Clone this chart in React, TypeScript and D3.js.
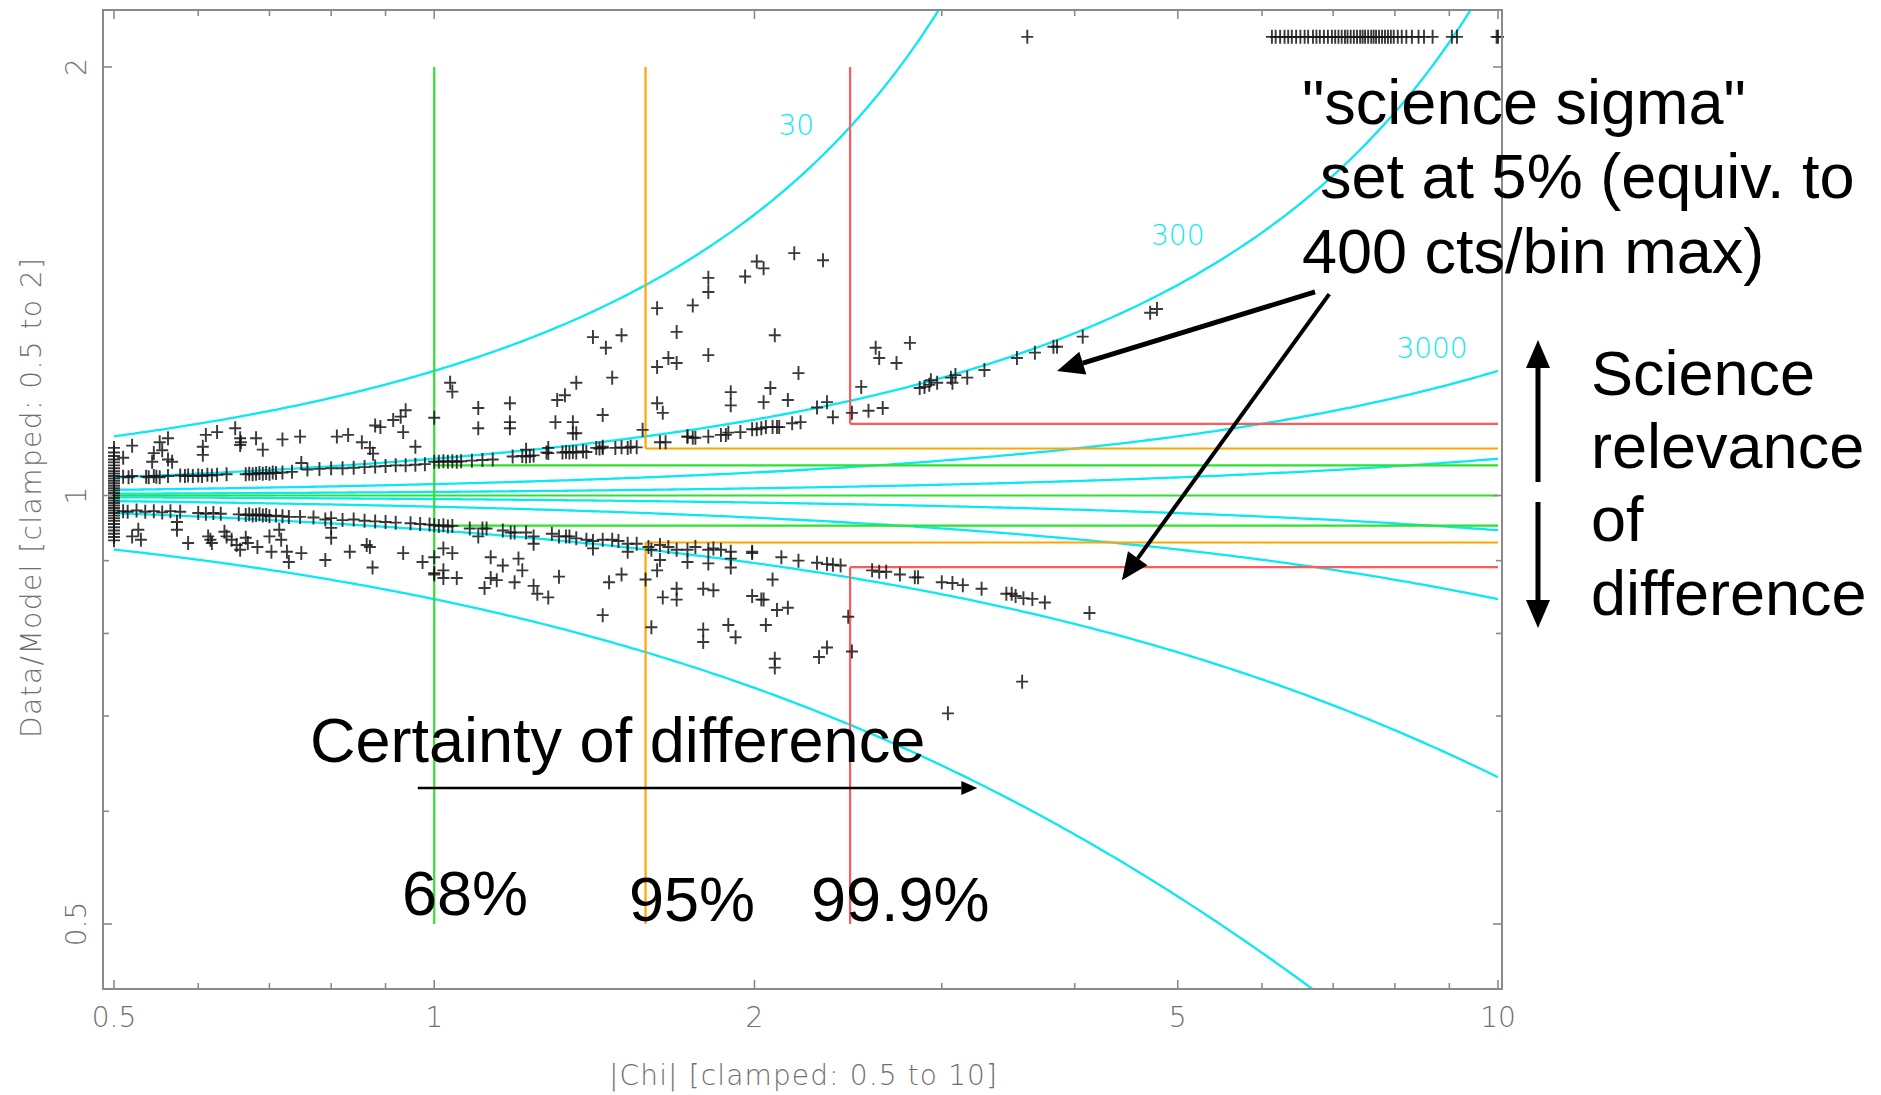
import React, { useEffect, useRef } from 'react';
import * as d3 from 'd3';

const W = 1881;
const H = 1095;

// axis ticks
const xMajor = [0.5, 1, 2, 5, 10];
const xMinor = [0.6, 0.7, 0.8, 0.9, 3, 4, 6, 7, 8, 9];
const yMajor = [0.5, 1, 2];
const yMinor = [0.6, 0.7, 0.8, 0.9];

// counts/bin of the cyan guide curves
const countLevels = [30, 300, 3000, 30000];
const countLabels = [
  { text: '30', chi: 2.19, ratio: 1.82 },
  { text: '300', chi: 5.0, ratio: 1.524 },
  { text: '3000', chi: 8.67, ratio: 1.27 },
];

// confidence boxes (|chi| thresholds)
const scienceSigma = 0.05;
const confLevels = [
  { chi: 1, label: '68%', color: '#2fe02f' },
  { chi: 1.58, label: '95%', color: '#ffa500' },
  { chi: 2.46, label: '99.9%', color: '#ff5a5a' },
];

// data: points clamped at |chi| = 0.5
const clampedCol = [1.08, 1.072, 1.066, 1.06, 1.055, 1.05, 1.045, 1.04, 1.036, 1.032, 1.028, 1.024, 1.02, 1.016,
  1.012, 1.008, 1.004, 1.0, 0.996, 0.992, 0.988, 0.984, 0.98, 0.976, 0.972, 0.968, 0.964, 0.96, 0.955, 0.95,
  0.945, 0.94, 0.935, 0.93];

// data: points clamped at ratio = 2 (drawn just above the top)
const clampedTopValue = 2.1;
const clampedTop = [3.61, 6.13, 6.18, 6.24, 6.3, 6.35, 6.4, 6.46, 6.52, 6.58, 6.63, 6.7, 6.75, 6.8, 6.86, 6.92,
  6.98, 7.03, 7.08, 7.13, 7.18, 7.22, 7.27, 7.32, 7.37, 7.42, 7.46, 7.5, 7.55, 7.6, 7.64, 7.68, 7.73, 7.78,
  7.83, 7.88, 7.93, 7.98, 8.05, 8.12, 8.2, 8.3, 8.42, 8.52, 8.68, 9.05, 9.15, 9.97, 10.0];

const upperBand = [
  [0.51, 1.031], [0.516, 1.03], [0.52, 1.032], [0.536, 1.031], [0.539, 1.03], [0.545, 1.032], [0.548, 1.031],
  [0.552, 1.03], [0.562, 1.032], [0.577, 1.033], [0.583, 1.032], [0.587, 1.033], [0.593, 1.032], [0.6, 1.033],
  [0.605, 1.032], [0.612, 1.034], [0.618, 1.033], [0.625, 1.034], [0.638, 1.035],
  [0.665, 1.035], [0.67, 1.036], [0.675, 1.035], [0.68, 1.036], [0.685, 1.037], [0.69, 1.036], [0.695, 1.037],
  [0.7, 1.036], [0.705, 1.038], [0.71, 1.037], [0.72, 1.038], [0.735, 1.039],
  [0.75, 1.054], [0.76, 1.043], [0.78, 1.044], [0.8, 1.045], [0.82, 1.045], [0.84, 1.046], [0.86, 1.047],
  [0.88, 1.048], [0.9, 1.049], [0.92, 1.05], [0.94, 1.05], [0.96, 1.051], [0.98, 1.052],
  [1.0, 1.056], [1.01, 1.056], [1.02, 1.057], [1.03, 1.056], [1.04, 1.057], [1.05, 1.056], [1.06, 1.057],
  [1.085, 1.058], [1.11, 1.059], [1.135, 1.06],
  [1.185, 1.065], [1.21, 1.066], [1.22, 1.065], [1.23, 1.066], [1.24, 1.067],
  [1.275, 1.072], [1.28, 1.071], [1.32, 1.072], [1.33, 1.073], [1.34, 1.072], [1.35, 1.073], [1.36, 1.072],
  [1.38, 1.074], [1.39, 1.073],
  [1.42, 1.08], [1.43, 1.079], [1.44, 1.08], [1.44, 1.082], [1.48, 1.08], [1.5, 1.081], [1.52, 1.08],
  [1.53, 1.082], [1.55, 1.081],
  [1.73, 1.1], [1.75, 1.098], [1.76, 1.098], [1.81, 1.1], [1.86, 1.103], [1.88, 1.103], [1.89, 1.107],
  [1.94, 1.108], [1.99, 1.113], [2.01, 1.113], [2.03, 1.115], [2.05, 1.117], [2.08, 1.117], [2.1, 1.117],
  [2.11, 1.117], [2.17, 1.124], [2.21, 1.126],
  [2.86, 1.19], [2.89, 1.192], [2.92, 1.196], [2.97, 1.2],
  [2.93, 1.205], [3.06, 1.21], [3.07, 1.2], [3.09, 1.215], [3.17, 1.21], [3.29, 1.225],
  [3.53, 1.249], [3.67, 1.26], [3.82, 1.272], [3.85, 1.272], [4.07, 1.293],
];

const upperScatter = [
  [0.52, 1.084], [0.51, 1.063], [0.545, 1.071], [0.552, 1.09], [0.555, 1.076], [0.562, 1.097], [0.562, 1.06],
  [0.543, 1.056], [0.567, 1.056], [0.61, 1.103], [0.606, 1.082], [0.606, 1.068], [0.625, 1.108],
  [0.65, 1.115], [0.657, 1.097], [0.657, 1.085], [0.658, 1.09], [0.68, 1.097], [0.69, 1.077], [0.72, 1.095],
  [0.748, 1.1], [0.81, 1.1], [0.83, 1.103], [0.855, 1.09], [0.87, 1.08], [0.876, 1.07],
  [0.88, 1.12], [0.89, 1.117], [0.915, 1.13], [0.93, 1.136], [0.935, 1.108], [0.94, 1.148], [0.96, 1.082],
  [1.0, 1.134], [1.035, 1.2], [1.04, 1.183], [1.1, 1.152], [1.1, 1.115], [1.178, 1.161], [1.178, 1.126],
  [1.178, 1.115], [1.3, 1.126], [1.305, 1.167], [1.327, 1.176], [1.35, 1.126], [1.36, 1.2], [1.36, 1.106],
  [1.41, 1.292], [1.44, 1.139], [1.45, 1.27], [1.47, 1.21], [1.5, 1.296], [1.57, 1.112],
  [1.62, 1.354], [1.62, 1.231], [1.62, 1.161], [1.64, 1.143], [1.66, 1.249], [1.69, 1.239], [1.69, 1.303],
  [1.63, 1.09], [1.65, 1.09], [1.73, 1.1], [1.22, 1.077], [1.28, 1.08], [1.35, 1.106],
  [1.75, 1.36], [1.81, 1.422], [1.81, 1.39], [1.81, 1.255], [1.96, 1.425], [2.01, 1.46], [2.04, 1.444],
  [2.09, 1.296], [2.18, 1.48], [2.32, 1.463], [2.2, 1.219],
  [1.9, 1.182], [1.9, 1.157], [2.04, 1.163], [2.07, 1.19], [2.15, 1.167],
  [2.29, 1.153], [2.34, 1.163], [2.37, 1.135], [2.52, 1.192], [2.56, 1.147], [2.64, 1.152], [2.47, 1.143],
  [2.6, 1.27], [2.62, 1.249], [2.72, 1.239], [2.8, 1.28], [4.71, 1.344], [4.78, 1.352],
];

const lowerBand = [
  [0.51, 0.975], [0.515, 0.974], [0.525, 0.976], [0.535, 0.974], [0.545, 0.975], [0.555, 0.973], [0.565, 0.975],
  [0.577, 0.974], [0.6, 0.972], [0.61, 0.971], [0.62, 0.972], [0.63, 0.971],
  [0.655, 0.97], [0.665, 0.969], [0.67, 0.97], [0.675, 0.968], [0.68, 0.969], [0.685, 0.97], [0.69, 0.968],
  [0.695, 0.969], [0.7, 0.967], [0.71, 0.968], [0.72, 0.967], [0.73, 0.966], [0.748, 0.966],
  [0.77, 0.965], [0.79, 0.962], [0.8, 0.964], [0.82, 0.961], [0.84, 0.962], [0.86, 0.96], [0.88, 0.959],
  [0.9, 0.958], [0.92, 0.957], [0.95, 0.956], [0.97, 0.955], [0.99, 0.954],
  [1.0, 0.953], [1.01, 0.952], [1.02, 0.953], [1.03, 0.951], [1.04, 0.952],
  [1.08, 0.948], [1.1, 0.936], [1.11, 0.948], [1.12, 0.948], [1.16, 0.945], [1.18, 0.942], [1.19, 0.942],
  [1.22, 0.942], [1.24, 0.936], [1.24, 0.925],
  [1.29, 0.94], [1.31, 0.936], [1.33, 0.936], [1.34, 0.936], [1.36, 0.933], [1.39, 0.931], [1.41, 0.929],
  [1.41, 0.918], [1.44, 0.931], [1.47, 0.931], [1.49, 0.929], [1.52, 0.925], [1.52, 0.913], [1.55, 0.925],
  [1.59, 0.92], [1.6, 0.916], [1.63, 0.923], [1.66, 0.92], [1.69, 0.916],
  [1.73, 0.916], [1.76, 0.92], [1.81, 0.916], [1.83, 0.918], [1.86, 0.916], [1.9, 0.913], [1.99, 0.911],
  [1.99, 0.913], [2.12, 0.905], [2.2, 0.9], [2.29, 0.897], [2.34, 0.895], [2.37, 0.894], [2.41, 0.893],
  [2.58, 0.886], [2.62, 0.884], [2.66, 0.884], [2.74, 0.88], [2.83, 0.876], [2.85, 0.876],
  [3.0, 0.869], [3.07, 0.868], [3.14, 0.865], [3.27, 0.86], [3.45, 0.853], [3.49, 0.853], [3.52, 0.85],
  [3.58, 0.847], [3.65, 0.846], [3.75, 0.841], [4.13, 0.827],
];

const lowerScatter = [
  [0.52, 0.936], [0.527, 0.946], [0.53, 0.931], [0.573, 0.958], [0.573, 0.946], [0.587, 0.926], [0.613, 0.936],
  [0.616, 0.931], [0.618, 0.926], [0.635, 0.943], [0.638, 0.936], [0.645, 0.931], [0.652, 0.923],
  [0.657, 0.916], [0.665, 0.934], [0.668, 0.926], [0.682, 0.92], [0.7, 0.936], [0.703, 0.913], [0.715, 0.946],
  [0.718, 0.931], [0.727, 0.913], [0.73, 0.898], [0.75, 0.911], [0.79, 0.901], [0.8, 0.949], [0.8, 0.934],
  [0.833, 0.913], [0.864, 0.923], [0.87, 0.92], [0.875, 0.89], [0.935, 0.911], [0.975, 0.898], [1.0, 0.905],
  [1.0, 0.882], [1.02, 0.918], [1.04, 0.911], [1.02, 0.886], [1.02, 0.875], [1.05, 0.875], [1.0, 0.88],
  [1.13, 0.905], [1.115, 0.861], [1.13, 0.875], [1.145, 0.872], [1.16, 0.893],
  [1.19, 0.869], [1.2, 0.903], [1.21, 0.886], [1.24, 0.864], [1.25, 0.853], [1.28, 0.848], [1.31, 0.877],
  [1.46, 0.869], [1.44, 0.824], [1.5, 0.88], [1.58, 0.873], [1.6, 0.808],
  [1.62, 0.886], [1.63, 0.901], [1.64, 0.848], [1.69, 0.86], [1.69, 0.845],
  [1.73, 0.898], [1.81, 0.896], [1.9, 0.89], [1.9, 0.903], [1.79, 0.86], [1.83, 0.858],
  [1.99, 0.85], [2.03, 0.845], [2.04, 0.845], [2.08, 0.873], [2.1, 0.831], [2.15, 0.834],
  [1.79, 0.805], [1.79, 0.789], [1.89, 0.811], [1.92, 0.795], [2.05, 0.811],
  [2.09, 0.768], [2.09, 0.757], [2.3, 0.77], [2.34, 0.782], [2.45, 0.822], [2.47, 0.777],
  [3.04, 0.703], [3.57, 0.74],
];

// annotation arrows, in data coordinates [chi, ratio]
const sigmaArrows = [
  { from: [6.73, 1.39], to: [3.85, 1.223], width: 5 },
  { from: [6.94, 1.385], to: [4.43, 0.872], width: 4 },
];
const certaintyArrow = { from: [0.965, 0.623], to: [3.24, 0.623] };

const CYAN = '#0ae8f2';
const AXIS = '#8a8a8a';
const AXIS_TEXT = '#6f6f6f';

const ChiPlot = () => {
  const ref = useRef(null);

  useEffect(() => {
    if (!ref.current) return;
    const root = d3.select(ref.current);
    root.selectAll('*').remove();

    const frame = { left: 103, right: 1502, top: 10, bottom: 989 };

    const x = d3.scaleLog().domain([0.5, 10]).range([114, 1498]);
    const y = d3.scaleLog().domain([0.5, 2]).range([924, 67]);

    const svg = root.append('g');

    svg.append('defs').append('clipPath').attr('id', 'plotClip')
      .append('rect')
      .attr('x', frame.left).attr('y', frame.top)
      .attr('width', frame.right - frame.left).attr('height', frame.bottom - frame.top);

    const plot = svg.append('g').attr('clip-path', 'url(#plotClip)');

    // cyan count curves
    const chiSamples = d3.range(0, 301).map(i => 0.5 * Math.pow(20, i / 300));
    const line = d3.line().x(d => x(d[0])).y(d => y(d[1]));
    countLevels.forEach(n => {
      const s = Math.sqrt(n);
      const up = chiSamples.filter(c => 1 - c / s > 0.25).map(c => [c, 1 / (1 - c / s)]);
      const lo = chiSamples.map(c => [c, 1 / (1 + c / s)]);
      [up, lo].forEach(pts => {
        plot.append('path').datum(pts)
          .attr('fill', 'none').attr('stroke', CYAN).attr('stroke-width', 2.3)
          .attr('d', line);
      });
    });

    // confidence boxes
    const seg = (x1, y1, x2, y2, color) => plot.append('line')
      .attr('x1', x(x1)).attr('y1', y(y1)).attr('x2', x(x2)).attr('y2', y(y2))
      .attr('stroke', color).attr('stroke-width', 2.2);

    seg(0.5, 1, 10, 1, confLevels[0].color);
    confLevels.forEach((lv, i) => {
      const hi = 1 + scienceSigma * lv.chi;
      const lo = 1 / hi;
      if (i === 0) {
        seg(lv.chi, 2, lv.chi, 0.5, lv.color);
      } else {
        seg(lv.chi, 2, lv.chi, hi, lv.color);
        seg(lv.chi, lo, lv.chi, 0.5, lv.color);
      }
      seg(lv.chi, hi, 10, hi, lv.color);
      seg(lv.chi, lo, 10, lo, lv.color);
    });

    // curve labels
    countLabels.forEach(l => {
      svg.append('text')
        .attr('x', x(l.chi)).attr('y', y(l.ratio)).attr('dy', '0.36em')
        .attr('text-anchor', 'middle')
        .attr('fill', CYAN)
        .style('font-family', '"DejaVu Sans", sans-serif')
        .style('font-weight', 200)
        .style('font-size', '28px')
        .text(l.text);
    });

    // points
    const pts = [
      ...clampedCol.map(v => [0.5, v]),
      ...clampedTop.map(c => [c, clampedTopValue]),
      ...upperBand, ...upperScatter, ...lowerBand, ...lowerScatter,
    ];
    svg.append('g').selectAll('path').data(pts).enter().append('path')
      .attr('transform', d => `translate(${x(d[0])},${y(d[1])})`)
      .attr('d', 'M-6,0H6M0,-7V7')
      .attr('stroke', '#161616').attr('stroke-width', 1.9).attr('opacity', 0.85)
      .attr('fill', 'none');

    // frame + ticks
    svg.append('rect')
      .attr('x', frame.left).attr('y', frame.top)
      .attr('width', frame.right - frame.left).attr('height', frame.bottom - frame.top)
      .attr('fill', 'none').attr('stroke', AXIS).attr('stroke-width', 2);

    const tickG = svg.append('g').attr('stroke', AXIS).attr('stroke-width', 1.6);
    const xt = (v, len) => {
      tickG.append('line').attr('x1', x(v)).attr('x2', x(v)).attr('y1', frame.bottom).attr('y2', frame.bottom - len);
      tickG.append('line').attr('x1', x(v)).attr('x2', x(v)).attr('y1', frame.top).attr('y2', frame.top + len);
    };
    const yt = (v, len) => {
      tickG.append('line').attr('y1', y(v)).attr('y2', y(v)).attr('x1', frame.left).attr('x2', frame.left + len);
      tickG.append('line').attr('y1', y(v)).attr('y2', y(v)).attr('x1', frame.right).attr('x2', frame.right - len);
    };
    xMajor.forEach(v => xt(v, 9));
    xMinor.forEach(v => xt(v, 6));
    yMajor.forEach(v => yt(v, 9));
    yMinor.forEach(v => yt(v, 6));

    const axisFont = sel => sel
      .attr('fill', AXIS_TEXT)
      .style('font-family', '"DejaVu Sans", sans-serif')
      .style('font-weight', 200)
      .style('font-size', '28px');

    xMajor.forEach(v => {
      svg.append('text').attr('x', x(v)).attr('y', 1027).attr('text-anchor', 'middle')
        .call(axisFont).text(d3.format('~g')(v));
    });
    yMajor.forEach(v => {
      svg.append('text').attr('transform', `translate(86,${y(v)}) rotate(-90)`)
        .attr('text-anchor', 'middle').call(axisFont).text(d3.format('~g')(v));
    });

    svg.append('text').attr('x', 609).attr('y', 1085)
      .attr('textLength', 388).attr('lengthAdjust', 'spacing')
      .call(axisFont).text('|Chi| [clamped: 0.5 to 10]');
    svg.append('text').attr('transform', 'translate(41,738) rotate(-90)')
      .attr('textLength', 480).attr('lengthAdjust', 'spacing')
      .call(axisFont).text('Data/Model [clamped: 0.5 to 2]');

    // annotations
    const big = sel => sel
      .attr('fill', '#000')
      .style('font-family', '"Liberation Sans", Arial, sans-serif')
      .style('font-size', '63px');

    const annot = (tx, ty, s) => svg.append('text').attr('x', tx).attr('y', ty).call(big).text(s);
    annot(1302, 124, '"science sigma"');
    annot(1320, 198, 'set at 5% (equiv. to');
    annot(1302, 273, '400 cts/bin max)');
    annot(1591, 395, 'Science');
    annot(1591, 468, 'relevance');
    annot(1591, 541, 'of');
    annot(1591, 615, 'difference');
    annot(310, 762, 'Certainty of difference');
    annot(402, 915, confLevels[0].label);
    annot(629, 921, confLevels[1].label);
    annot(811, 921, confLevels[2].label);

    const arrow = (x1, y1, x2, y2, w, hl, hw) => {
      const a = Math.atan2(y2 - y1, x2 - x1);
      const bx = x2 - hl * Math.cos(a);
      const by = y2 - hl * Math.sin(a);
      svg.append('line').attr('x1', x1).attr('y1', y1).attr('x2', bx).attr('y2', by)
        .attr('stroke', '#000').attr('stroke-width', w);
      const px = -Math.sin(a) * hw;
      const py = Math.cos(a) * hw;
      svg.append('polygon')
        .attr('points', `${x2},${y2} ${bx + px},${by + py} ${bx - px},${by - py}`)
        .attr('fill', '#000');
    };

    sigmaArrows.forEach(a => arrow(x(a.from[0]), y(a.from[1]), x(a.to[0]), y(a.to[1]), a.width, 27, 12));
    arrow(x(certaintyArrow.from[0]), y(certaintyArrow.from[1]), x(certaintyArrow.to[0]), y(certaintyArrow.to[1]), 2.6, 16, 7);

    // vertical double arrow (science relevance)
    arrow(1538, 482, 1538, 340, 5, 28, 12);
    arrow(1538, 502, 1538, 628, 5, 28, 12);
  }, []);

  return (
    <svg ref={ref} width={W} height={H} viewBox={`0 0 ${W} ${H}`}
      style={{ position: 'absolute', left: 0, top: 0, background: '#fff' }} />
  );
};

export default function App() {
  return <ChiPlot />;
}
